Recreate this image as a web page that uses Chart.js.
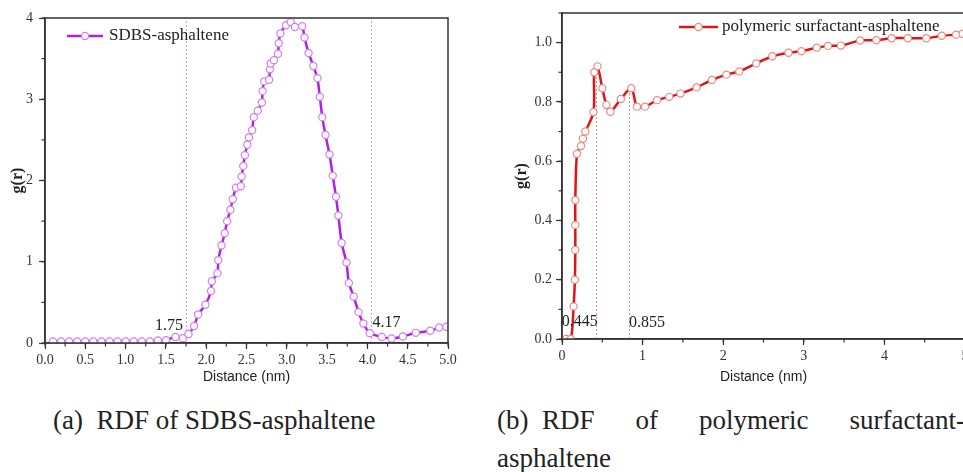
<!DOCTYPE html>
<html>
<head>
<meta charset="utf-8">
<script src="https://cdn.jsdelivr.net/npm/chart.js@4.4.0/dist/chart.umd.min.js"></script>
<style>
  html, body { margin: 0; padding: 0; background: #fff; width: 963px; height: 472px; overflow: hidden; }
  canvas { position: absolute; top: 0; }
  #chartA { left: 0; }
  #chartB { left: 480px; }
  .cap { position: absolute; font-family: "Liberation Serif", serif; font-size: 27px; color: #222; white-space: nowrap; line-height: 32px; }
  #capA { left: 53px; top: 404px; }
  #capB1 { left: 497px; top: 404px; width: 468px; display: flex; justify-content: space-between; }
  #capB2 { left: 497px; top: 442px; }
</style>
</head>
<body>
<canvas id="chartA" width="480" height="390"></canvas>
<canvas id="chartB" width="500" height="390"></canvas>
<div class="cap" id="capA">(a)&nbsp;&nbsp;RDF of SDBS-asphaltene</div>
<div class="cap" id="capB1"><span>(b)&nbsp;&nbsp;RDF</span><span>of</span><span>polymeric</span><span>surfactant-</span></div>
<div class="cap" id="capB2">asphaltene</div>
<script>
// Données (a) : SDBS-asphaltène
const sdbsX = [0.1, 0.2, 0.3, 0.4, 0.5, 0.6, 0.7, 0.8, 0.9, 1.0, 1.1, 1.2, 1.3, 1.4, 1.5,
  1.62, 1.71, 1.78, 1.85, 1.90, 1.99, 2.06, 2.07, 2.14, 2.15, 2.19, 2.23, 2.26, 2.30, 2.33,
  2.37, 2.43, 2.44, 2.46, 2.48, 2.51, 2.53, 2.57, 2.59, 2.64, 2.69, 2.70, 2.72, 2.78, 2.79,
  2.80, 2.84, 2.89, 2.90, 2.92, 2.99, 3.05, 3.10, 3.19, 3.22, 3.27, 3.33, 3.38, 3.41, 3.44,
  3.48, 3.53, 3.57, 3.61, 3.64, 3.68, 3.74, 3.77, 3.83, 3.89, 3.95, 4.03, 4.18, 4.30, 4.44,
  4.60, 4.78, 4.89, 4.98];
const sdbsY = [0.02, 0.02, 0.02, 0.02, 0.02, 0.02, 0.02, 0.02, 0.02, 0.02, 0.02, 0.02, 0.02, 0.03, 0.035,
  0.075, 0.06, 0.11, 0.21, 0.35, 0.47, 0.64, 0.76, 0.86, 1.02, 1.20, 1.35, 1.50, 1.64, 1.77,
  1.91, 1.93, 2.05, 2.18, 2.31, 2.44, 2.53, 2.62, 2.78, 2.86, 2.96, 3.10, 3.22, 3.24, 3.37,
  3.44, 3.48, 3.56, 3.69, 3.81, 3.91, 3.95, 3.89, 3.90, 3.76, 3.57, 3.41, 3.26, 3.03, 2.78,
  2.56, 2.32, 2.06, 1.80, 1.57, 1.23, 0.99, 0.74, 0.57, 0.38, 0.24, 0.12, 0.075, 0.055, 0.08,
  0.125, 0.15, 0.19, 0.20];
const sdbsGuides = [1.75, 4.04];
const sdbsGuideText = ["1.75", "4.17"];

// Données (b) : tensioactif polymère-asphaltène
const polyX = [0.05, 0.11, 0.144, 0.16, 0.165, 0.165, 0.165, 0.186, 0.235, 0.26, 0.29, 0.39,
  0.40, 0.44, 0.50, 0.55, 0.60, 0.73, 0.86, 0.93, 1.03, 1.18, 1.33, 1.47, 1.67, 1.86, 2.04,
  2.20, 2.41, 2.61, 2.81, 2.97, 3.16, 3.30, 3.46, 3.70, 3.90, 4.09, 4.29, 4.52, 4.71, 4.89, 4.97];
const polyY = [0.0, 0.0, 0.11, 0.20, 0.30, 0.385, 0.468, 0.625, 0.651, 0.676, 0.70, 0.766,
  0.90, 0.92, 0.846, 0.79, 0.767, 0.81, 0.846, 0.784, 0.784, 0.806, 0.817, 0.828, 0.849, 0.874, 0.892,
  0.903, 0.930, 0.954, 0.966, 0.971, 0.983, 0.989, 0.990, 1.007, 1.008, 1.015, 1.015, 1.015, 1.023, 1.027, 1.03];
const polyGuides = [0.42, 0.83];
const polyGuideTops = [0.90, 0.83];
const polyGuideText = ["0.445", "0.855"];

const AXIS = "#333";
const TXT = "#333";
Chart.defaults.font.family = "'Liberation Serif', serif";
Chart.defaults.animation = false;

// Cadre, petites graduations, repères pointillés et légende
const decor = {
  id: "decor",
  beforeDatasetsDraw(chart, args, o) {
    const { ctx, chartArea: a, scales: { x, y } } = chart;
    ctx.save();
    ctx.strokeStyle = o.guideColor;
    ctx.lineWidth = 1;
    ctx.setLineDash([2, 2]);
    o.guides.forEach((g, i) => {
      const px = Math.round(x.getPixelForValue(g)) + 0.5;
      const top = o.guideTops ? y.getPixelForValue(o.guideTops[i]) : a.top;
      ctx.beginPath();
      ctx.moveTo(px, a.bottom);
      ctx.lineTo(px, top);
      ctx.stroke();
    });
    ctx.restore();
  },
  afterDraw(chart, args, o) {
    const { ctx, chartArea: a, scales: { x, y } } = chart;
    ctx.save();
    // cadre
    ctx.strokeStyle = AXIS;
    ctx.lineWidth = 1.5;
    ctx.strokeRect(a.left, a.top, a.right - a.left, a.bottom - a.top);
    // petites graduations
    ctx.lineWidth = 1.2;
    for (let v = x.min; v <= x.max + 1e-9; v += o.minorX) {
      const px = x.getPixelForValue(v);
      ctx.beginPath(); ctx.moveTo(px, a.bottom); ctx.lineTo(px, a.bottom + 3.5); ctx.stroke();
    }
    for (let v = y.min; v <= y.max + 1e-9; v += o.minorY) {
      const py = y.getPixelForValue(v);
      ctx.beginPath(); ctx.moveTo(a.left, py); ctx.lineTo(a.left - 3.5, py); ctx.stroke();
    }
    // étiquettes des repères
    ctx.fillStyle = "#222";
    ctx.font = "16px 'Liberation Serif'";
    ctx.textBaseline = "middle";
    o.guides.forEach((g, i) => {
      const px = x.getPixelForValue(g);
      const L = o.labels[i];
      ctx.textAlign = L.align;
      ctx.fillText(o.texts[i], px + L.dx, a.bottom + L.dy);
    });
    // légende
    const lg = o.legend;
    const ds = chart.data.datasets[0];
    const ly = a.top + lg.dy;
    ctx.strokeStyle = ds.borderColor;
    ctx.lineWidth = 2.5;
    ctx.beginPath(); ctx.moveTo(a.left + lg.x1, ly); ctx.lineTo(a.left + lg.x2, ly); ctx.stroke();
    ctx.beginPath();
    ctx.arc(a.left + (lg.x1 + lg.x2) / 2, ly, 3.6, 0, Math.PI * 2);
    ctx.fillStyle = "#fff"; ctx.fill();
    ctx.strokeStyle = ds.pointBorderColor; ctx.lineWidth = 1.2; ctx.stroke();
    ctx.fillStyle = "#222";
    ctx.font = "17px 'Liberation Serif'";
    ctx.textAlign = "left";
    ctx.fillText(ds.label, a.left + lg.tx, ly);
    ctx.restore();
  }
};

function axisX(step, fmt, height) {
  return {
    type: "linear", min: 0, max: 5,
    ticks: { stepSize: step, callback: fmt, color: TXT, font: { size: 14 }, padding: 3, maxRotation: 0, autoSkip: false, includeBounds: false },
    grid: { drawOnChartArea: false, tickLength: 6, color: AXIS, tickWidth: 1.2 },
    border: { color: AXIS, width: 1.5 },
    title: { display: true, text: "Distance (nm)", color: "#222", font: { family: "'Liberation Sans', sans-serif", size: 14 }, padding: { top: 0, bottom: 4 } },
    afterFit: s => { s.height = height; }
  };
}
function axisY(max, step, fmt, width, pad) {
  return {
    min: 0, max: max,
    ticks: { stepSize: step, callback: fmt, color: TXT, font: { size: 14 }, padding: pad, includeBounds: false },
    grid: { drawOnChartArea: false, tickLength: 6, color: AXIS, tickWidth: 1.2 },
    border: { color: AXIS, width: 1.5 },
    title: { display: true, text: "g(r)", color: "#222", font: { size: 16, weight: "bold" }, padding: { top: 0, bottom: 0 } },
    afterFit: s => { s.width = width; }
  };
}

new Chart(document.getElementById("chartA"), {
  type: "line",
  data: {
    datasets: [{
      label: "SDBS-asphaltene",
      data: sdbsX.map((v, i) => ({ x: v, y: sdbsY[i] })),
      borderColor: "#b01fe6",
      borderWidth: 2.5,
      tension: 0.2,
      pointRadius: 3.6,
      pointBackgroundColor: "#fff",
      pointBorderColor: "#d27ef2",
      pointBorderWidth: 1.2
    }]
  },
  options: {
    responsive: false,
    layout: { padding: { top: 18, right: 32, left: 8, bottom: 0 } },
    scales: {
      x: axisX(0.5, v => Number(v).toFixed(1), 47),
      y: axisY(4, 1, v => v, 37, 6)
    },
    plugins: {
      legend: { display: false },
      tooltip: { enabled: false },
      decor: {
        guides: sdbsGuides, texts: sdbsGuideText, guideColor: "#d995f0",
        labels: [{ dx: -3, dy: -17, align: "right" }, { dx: 2, dy: -20, align: "left" }],
        minorX: 0.25, minorY: 0.5,
        legend: { x1: 22, x2: 58, dy: 18, tx: 64 }
      }
    }
  },
  plugins: [decor]
});

new Chart(document.getElementById("chartB"), {
  type: "line",
  data: {
    datasets: [{
      label: "polymeric surfactant-asphaltene",
      data: polyX.map((v, i) => ({ x: v, y: polyY[i] })),
      borderColor: "#e01414",
      borderWidth: 2.5,
      tension: 0.3,
      pointRadius: 3.6,
      pointBackgroundColor: "#fff",
      pointBorderColor: "#e98a86",
      pointBorderWidth: 1.2
    }]
  },
  options: {
    responsive: false,
    layout: { padding: { top: 13, right: 15, left: 32, bottom: 0 } },
    scales: {
      x: axisX(1, v => v, 51),
      y: axisY(1.1, 0.2, v => Number(v).toFixed(1), 50, 4)
    },
    plugins: {
      legend: { display: false },
      tooltip: { enabled: false },
      decor: {
        guides: polyGuides, guideTops: polyGuideTops, texts: polyGuideText, guideColor: "#e98a86",
        labels: [{ dx: -34, dy: -17, align: "left" }, { dx: 0, dy: -16, align: "left" }],
        minorX: 0.5, minorY: 0.1,
        legend: { x1: 117, x2: 156, dy: 14, tx: 160 }
      }
    }
  },
  plugins: [decor]
});
</script>
</body>
</html>
